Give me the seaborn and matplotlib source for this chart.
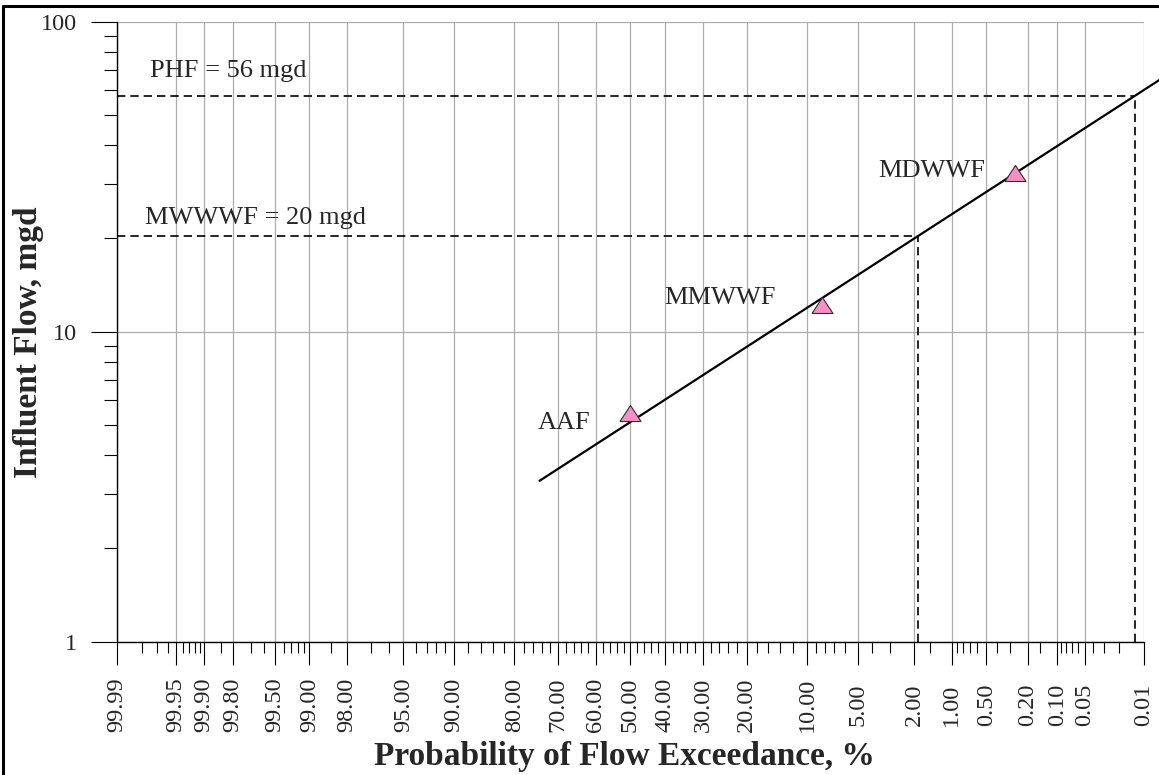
import numpy as np
import matplotlib
matplotlib.use("Agg")
import matplotlib.pyplot as plt
import seaborn as sns
from matplotlib.lines import Line2D
from statistics import NormalDist

# ==========================================================
# Data
# ==========================================================

point_names = ["AAF", "MMWWF", "MDWWF"]
point_exceed = [50.0, 8.3, 0.27]          # % exceedance
point_flow = [5.47, 12.2, 32.6]           # mgd

fit_exceed = [74.5, 0.005]                # ends of the fitted line
fit_flow = [3.30, 67.5]

design_names = ["PHF = 56 mgd", "MWWWF = 20 mgd"]
design_flow = [57.6, 20.3]
design_exceed = [0.013, 1.88]

major_ticks = [99.99, 99.95, 99.9, 99.8, 99.5, 99, 98, 95, 90, 80, 70, 60,
               50, 40, 30, 20, 10, 5, 2, 1, 0.5, 0.2, 0.1, 0.05, 0.01]
major_labels = ["99.99", "99.95", "99.90", "99.80", "99.50", "99.00", "98.00",
                "95.00", "90.00", "80.00", "70.00", "60.00", "50.00", "40.00",
                "30.00", "20.00", "10.00", "5.00", "2.00", "1.00", "0.50",
                "0.20", "0.10", "0.05", "0.01"]
minor_ticks = [99.98, 99.97, 99.96, 99.94, 99.93, 99.92, 99.91, 99.85, 99.7,
               99.6, 99.4, 99.3, 99.2, 99.1, 98.5, 97, 96, 94, 93, 92, 91,
               88, 86, 84, 82, 78, 76, 74, 72, 68, 66, 64, 62, 58, 56, 54, 52,
               48, 46, 44, 42, 38, 36, 34, 32, 28, 26, 24, 22, 18, 16, 14, 12,
               9, 8, 7, 6, 4, 3, 1.5, 0.9, 0.8, 0.7, 0.6, 0.4, 0.3, 0.15,
               0.09, 0.08, 0.07, 0.06, 0.04, 0.03, 0.02]

y_ticks = [1, 10, 100]
y_labels = ["1", "10", "100"]

# ==========================================================
# Normal probability scale
# ==========================================================

nd = NormalDist()
_ppf = np.vectorize(lambda v: nd.inv_cdf(v / 100.0), otypes=[float])
_cdf = np.vectorize(lambda z: nd.cdf(z) * 100.0, otypes=[float])


def prob_forward(p):
    p = np.clip(np.asarray(p, dtype=float), 1e-7, 100 - 1e-7)
    return _ppf(p)


def prob_inverse(z):
    return _cdf(np.asarray(z, dtype=float))


# ==========================================================
# Style
# ==========================================================

sns.set_style("white")
plt.rcParams["font.family"] = ["Liberation Serif", "DejaVu Serif"]

fig = plt.figure(figsize=(11.59, 7.75), dpi=100)
ax = fig.add_axes([117 / 1159, 1 - 641.5 / 775, 1027 / 1159, 619.8 / 775])

ax.set_xscale("function", functions=(prob_forward, prob_inverse))
ax.set_yscale("log")

# ==========================================================
# Plot
# ==========================================================

sns.lineplot(x=fit_exceed, y=fit_flow, ax=ax, color="black", lw=1.6,
             clip_on=False, zorder=4)

dash = (0, (5, 3))
for name, q, p in zip(design_names, design_flow, design_exceed):
    ax.plot([99.99, p], [q, q], color="black", lw=1.2, ls=dash, zorder=3)
    ax.plot([p, p], [1, q], color="black", lw=1.2, ls=dash, zorder=3)

# flat triangle marker like the reference
tri = [(-1, -0.76), (1, -0.76), (0, 0.76), (-1, -0.76)]
sns.scatterplot(x=point_exceed, y=point_flow, ax=ax, marker=tri, s=230,
                color="#f490c4", edgecolor="#3a2a30", linewidth=0.8,
                zorder=5)

for name, p, q, off in zip(point_names, point_exceed, point_flow,
                           [(-29, -7), (-33, 5), (-21, 1)]):
    ax.annotate(name, (p, q), xytext=off, textcoords="offset points",
                ha="right", va="center", fontsize=19)

for name, q, off in zip(design_names, design_flow, [(24, 18), (20, 13)]):
    ax.annotate(name, (99.99, q), xytext=off, textcoords="offset points",
                ha="left", va="center", fontsize=19)

# ==========================================================
# Axes formatting
# ==========================================================

ax.set_xlim(99.99, 0.01)
ax.set_ylim(1, 100)

ax.set_xticks(major_ticks)
ax.set_xticklabels(major_labels, rotation=90, fontsize=17.5,
                   rotation_mode="anchor", ha="center", va="center")
ax.set_xticks(minor_ticks, minor=True)
ax.set_xticklabels([], minor=True)

ax.set_yticks(y_ticks)
ax.set_yticklabels(y_labels, fontsize=17.5)

ax.tick_params(axis="x", which="major", direction="out", length=16.5,
               width=0.8, color="black", pad=29, bottom=True)
ax.tick_params(axis="x", which="minor", direction="out", length=8,
               width=0.8, color="black", bottom=True)
ax.tick_params(axis="y", which="major", direction="out", length=18.5,
               width=0.8, color="black", pad=10, left=True)
ax.tick_params(axis="y", which="minor", direction="out", length=9.5,
               width=0.8, color="black", left=True)
ax.yaxis.set_minor_formatter(matplotlib.ticker.NullFormatter())

ax.grid(True, which="major", color="#adadad", lw=0.9)
ax.grid(False, which="minor")

for side in ["top", "right"]:
    ax.spines[side].set_visible(False)
for side in ["left", "bottom"]:
    ax.spines[side].set_color("black")
    ax.spines[side].set_linewidth(1.0)

ax.set_xlabel("Probability of Flow Exceedance, %", fontsize=24,
              fontweight="bold")
ax.set_ylabel("Influent Flow, mgd", fontsize=24, fontweight="bold")
ax.xaxis.set_label_coords(0.494, -0.1605)
ax.yaxis.set_label_coords(-0.071, 0.483)

# outer frame (top and left edges show in the reference)
fig.add_artist(Line2D([3 / 1159, 3 / 1159], [0, 1 - 6 / 775],
                      color="black", lw=2.2))
fig.add_artist(Line2D([3 / 1159, 1], [1 - 6 / 775, 1 - 6 / 775],
                      color="black", lw=2.2))

fig.savefig("out.png", dpi=100)
